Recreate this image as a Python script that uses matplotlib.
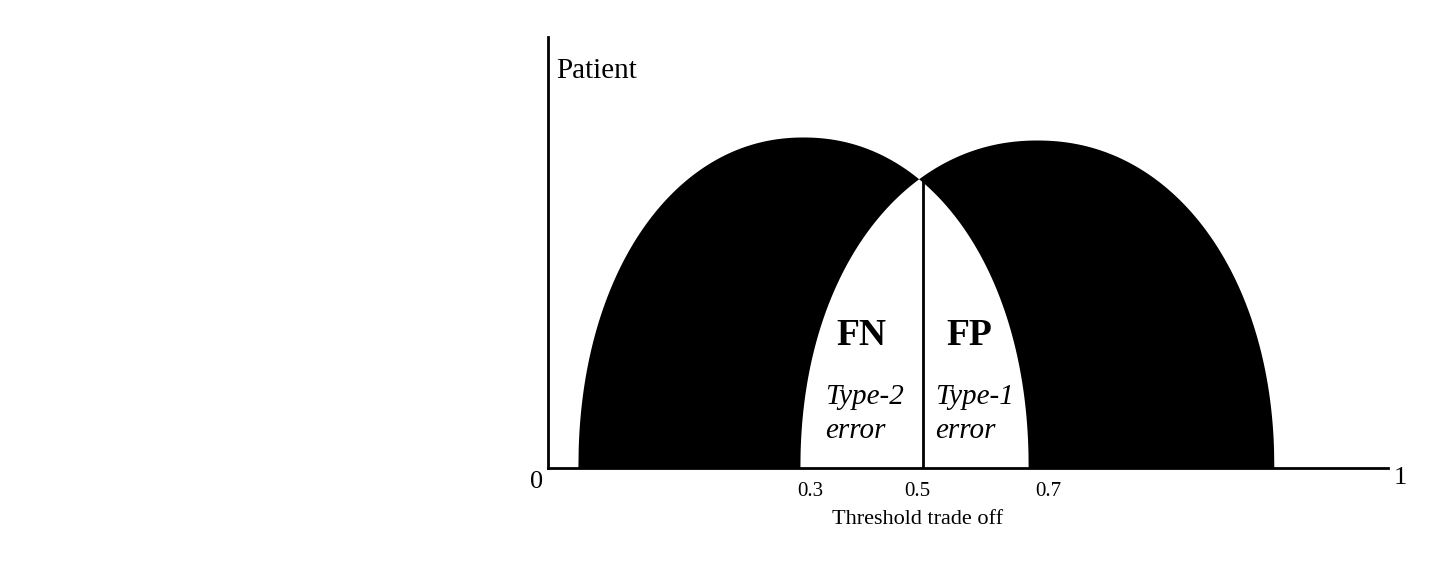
import numpy as np
import matplotlib.pyplot as plt

plt.rcParams['font.family'] = ['Liberation Serif', 'DejaVu Serif']

# two score distributions drawn as rounded humps (centre, half width, height)
curve_centres = [0.3036, 0.582]
curve_half_widths = [0.268, 0.2821]
curve_heights = [0.768, 0.761]
hump_power = 2.1  # a bit fuller than a plain half ellipse

# threshold line and labelled positions
threshold_x = 0.4464
tick_pos = [0.3119, 0.4393, 0.5952]
tick_labels = ["0.3", "0.5", "0.7"]


def hump(x, c, w, h):
    u = np.clip(np.abs((x - c) / w), 0, 1)
    return h * (1 - u ** hump_power) ** (1 / hump_power)


fig = plt.figure(figsize=(14.43, 5.69), dpi=100)
ax = fig.add_axes([548 / 1443, 101 / 569, 840 / 1443, 431 / 569])
ax.set_xlim(0, 1)
ax.set_ylim(0, 1)

# black distributions
for c, w, h in zip(curve_centres, curve_half_widths, curve_heights):
    xs = np.linspace(c - w, c + w, 1500)
    ax.fill_between(xs, 0, hump(xs, c, w, h), color='black', lw=0)

# overlap region in white
lo = curve_centres[1] - curve_half_widths[1]
hi = curve_centres[0] + curve_half_widths[0]
xs = np.linspace(lo, hi, 1500)
top = np.minimum(hump(xs, curve_centres[0], curve_half_widths[0], curve_heights[0]),
                 hump(xs, curve_centres[1], curve_half_widths[1], curve_heights[1]))
ax.fill_between(xs, 0, top, color='white', lw=0)

# threshold line up to the crossing point
cross_y = min(hump(threshold_x, curve_centres[0], curve_half_widths[0], curve_heights[0]),
              hump(threshold_x, curve_centres[1], curve_half_widths[1], curve_heights[1]))
ax.plot([threshold_x, threshold_x], [0, cross_y], color='black', lw=2)

for s in ['top', 'right']:
    ax.spines[s].set_visible(False)
for s in ['left', 'bottom']:
    ax.spines[s].set_linewidth(2)
    ax.spines[s].set_zorder(5)
ax.set_yticks([])
ax.set_xticks(tick_pos)
ax.set_xticklabels(tick_labels, fontsize=15)
ax.tick_params(axis='x', length=0, pad=10)

ax.set_xlabel("Threshold trade off", fontsize=16)
ax.xaxis.set_label_coords(0.4405, -0.098)

ax.text(-0.0131, -0.032, "0", fontsize=19, ha='center', va='center')
ax.text(1.0143, -0.023, "1", fontsize=19, ha='center', va='center', clip_on=False)
ax.text(0.0095, 0.922, "Patient", fontsize=21, ha='left', va='center')

ax.text(0.3726, 0.308, "FN", fontsize=27, fontweight='bold', ha='center', va='center')
ax.text(0.501, 0.308, "FP", fontsize=27, fontweight='bold', ha='center', va='center')
ax.text(0.3298, 0.126, "Type-2\nerror", fontsize=21, style='italic', ha='left', va='center',
        linespacing=1.4)
ax.text(0.4607, 0.126, "Type-1\nerror", fontsize=21, style='italic', ha='left', va='center',
        linespacing=1.4)

fig.savefig("out.png", dpi=100)
